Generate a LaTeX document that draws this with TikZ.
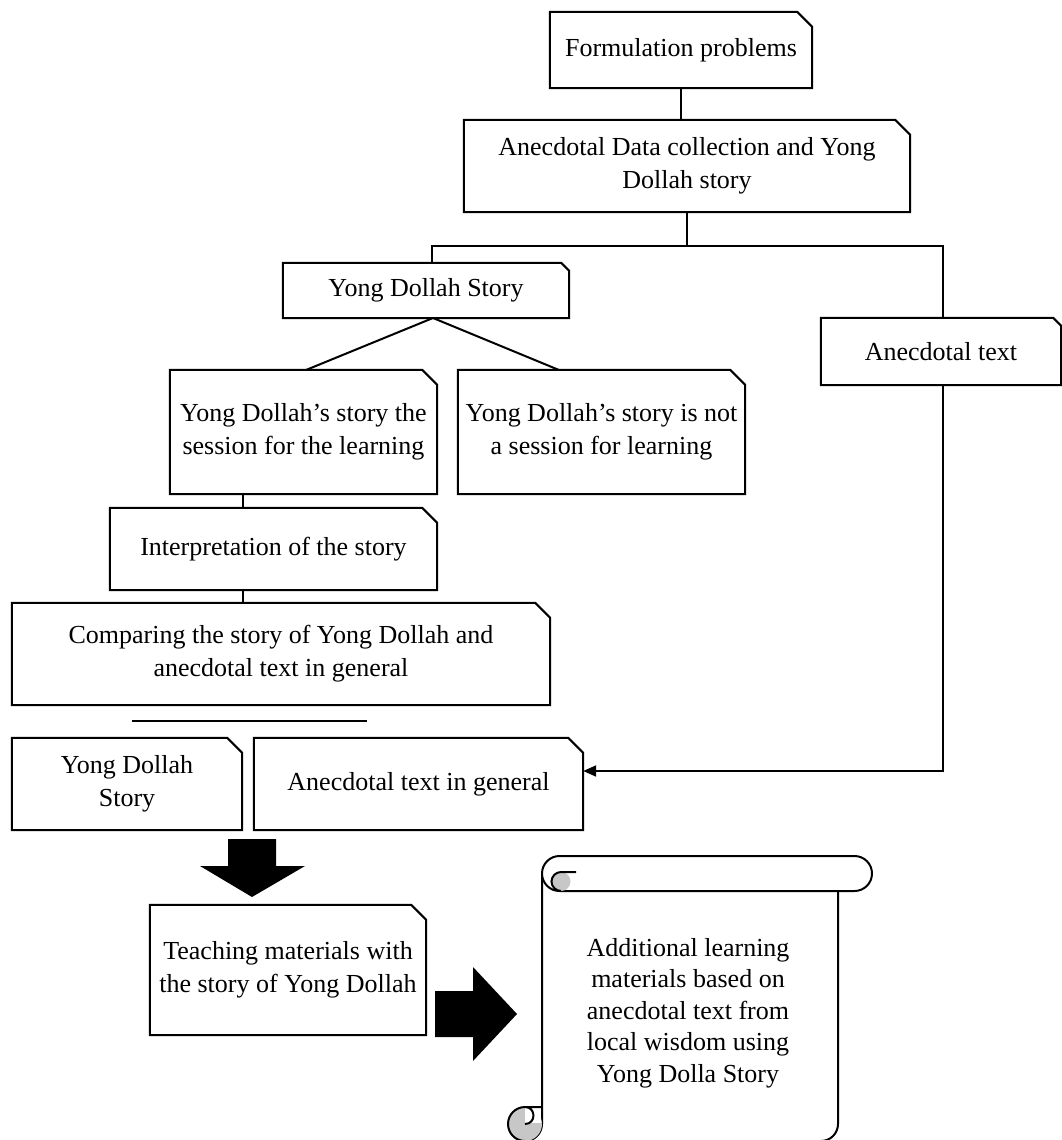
\documentclass[tikz,border=0pt]{standalone}
\usepackage{fontspec}
\setmainfont{Liberation Serif}
\usetikzlibrary{arrows.meta}
\newcommand{\cutbx}[2]{\draw[boxline] (#1.north west) -- ([xshift=-#2]#1.north east) -- ([yshift=-#2]#1.north east) -- (#1.south east) -- (#1.south west) -- cycle;}
\tikzset{
  boxline/.style={draw=black, line width=2pt},
  txt/.style={inner sep=0pt, align=center, font=\fontsize{26}{33}\selectfont},
  conn/.style={draw=black, line width=2pt},
  bigarrow/.style={fill=black},
  rollgray/.style={fill=black!22},
}
\begin{document}
\begin{tikzpicture}[x=1pt,y=-1pt]
\useasboundingbox (0,0) rectangle (1062,1140);
\fill[white] (0,0) rectangle (1062,1140);
\begin{scope}
\clip (0,0) rectangle (1062,1140);

% boxes
\node[txt, minimum width=262pt, minimum height=76pt] (form) at (681,50) {Formulation problems};
\node[txt, minimum width=446pt, minimum height=92pt] (adc) at (687,166) {Anecdotal Data collection and Yong\\Dollah story};
\node[txt, minimum width=286pt, minimum height=55pt] (yds) at (426,290.5) {Yong Dollah Story};
\node[txt, minimum width=240pt, minimum height=67pt] (at) at (941,351.5) {Anecdotal text};
\node[txt, minimum width=267pt, minimum height=124pt] (ysl) at (303.5,432) {Yong Dollah's story the\\session for the learning};
\node[txt, minimum width=287pt, minimum height=124pt] (ysr) at (601.5,432) {Yong Dollah's story is not\\a session for learning};
\node[txt, minimum width=327pt, minimum height=82pt] (interp) at (273.5,549) {Interpretation of the story};
\node[txt, minimum width=538pt, minimum height=102pt] (comp) at (281,654) {Comparing the story of Yong Dollah and\\anecdotal text in general};
\node[txt, minimum width=230pt, minimum height=92pt] (yd2) at (127,784) {Yong Dollah\\Story};
\node[txt, minimum width=329pt, minimum height=92pt] (atg) at (418.5,784) {Anecdotal text in general};
\node[txt, minimum width=276pt, minimum height=130pt] (teach) at (288,970) {Teaching materials with\\the story of Yong Dollah};

\cutbx{form}{15pt}
\cutbx{adc}{15pt}
\cutbx{yds}{8pt}
\cutbx{at}{8pt}
\cutbx{ysl}{15pt}
\cutbx{ysr}{15pt}
\cutbx{interp}{15pt}
\cutbx{comp}{15pt}
\cutbx{yd2}{15pt}
\cutbx{atg}{15pt}
\cutbx{teach}{15pt}

% connectors
\coordinate (busL) at (432,246);
\coordinate (busR) at (943,246);
\coordinate (apex) at (433,318);
\coordinate (dl) at (306,370);
\coordinate (dr) at (559,370);
\coordinate (vx) at (243,0);
\coordinate (hl1) at (132,721);
\coordinate (hl2) at (367,721);
\coordinate (turn) at (943,771);

\draw[conn] (form.south -| 681,0) -- (681,120);
\draw[conn] (adc.south) -- (adc.south |- busL);
\draw[conn] (busL |- yds.north) -- (busL) -- (busR) -- (busR |- at.north);
\draw[conn] (dl) -- (apex) -- (dr);
\draw[conn] (vx |- ysl.south) -- (vx |- interp.north);
\draw[conn] (vx |- interp.south) -- (vx |- comp.north);
\draw[conn] (hl1) -- (hl2);
\draw[conn, -{Triangle[length=13pt,width=11pt]}] (turn |- at.south) -- (turn) -- (atg.east |- turn);

% big arrows
\fill[bigarrow] (228,839) -- (276,839) -- (276,866) -- (305,866) -- (252,897) -- (200,866) -- (228,866) -- cycle;
\fill[bigarrow] (435,991) -- (473,991) -- (473,967) -- (517,1014) -- (473,1061) -- (473,1037) -- (435,1037) -- cycle;

% scroll: body
\draw[boxline, fill=white] (542,873.5) -- (542,1124)
  .. controls (542,1133.4) and (534.4,1141) .. (525,1141)
  -- (821,1141)
  .. controls (830.4,1141) and (838,1133.4) .. (838,1124)
  -- (838,891);
% top roll
\draw[boxline, fill=white, rounded corners=17.5pt] (542,856) rectangle (872,891);
% top curl
\fill[rollgray] (561,881.5) circle (9.5);
\draw[line width=2pt] (576,872) -- (561,872)
  .. controls (555.8,872) and (551.5,876.3) .. (551.5,881.5)
  .. controls (551.5,886.7) and (555.8,891) .. (561,891);
% bottom roll
\begin{scope}
\clip (500,1107) rectangle (542,1141) (500,1124) rectangle (560,1145);
\fill[rollgray] (525,1124) circle (17);
\end{scope}
\fill[white] (525,1108) rectangle (541,1123);
\draw[line width=2pt] (542,1107) -- (525,1107)
  .. controls (536.3,1107) and (536.3,1124) .. (525,1124);
\draw[line width=2pt] (525,1107) .. controls (515.6,1107) and (508,1114.6) .. (508,1124)
  .. controls (508,1133.4) and (515.6,1141) .. (525,1141);

\node[txt, font=\fontsize{26}{31.5}\selectfont] (scr) at (688,1013) {Additional learning\\materials based on\\anecdotal text from\\local wisdom using\\Yong Dolla Story};
\end{scope}
\end{tikzpicture}
\end{document}
